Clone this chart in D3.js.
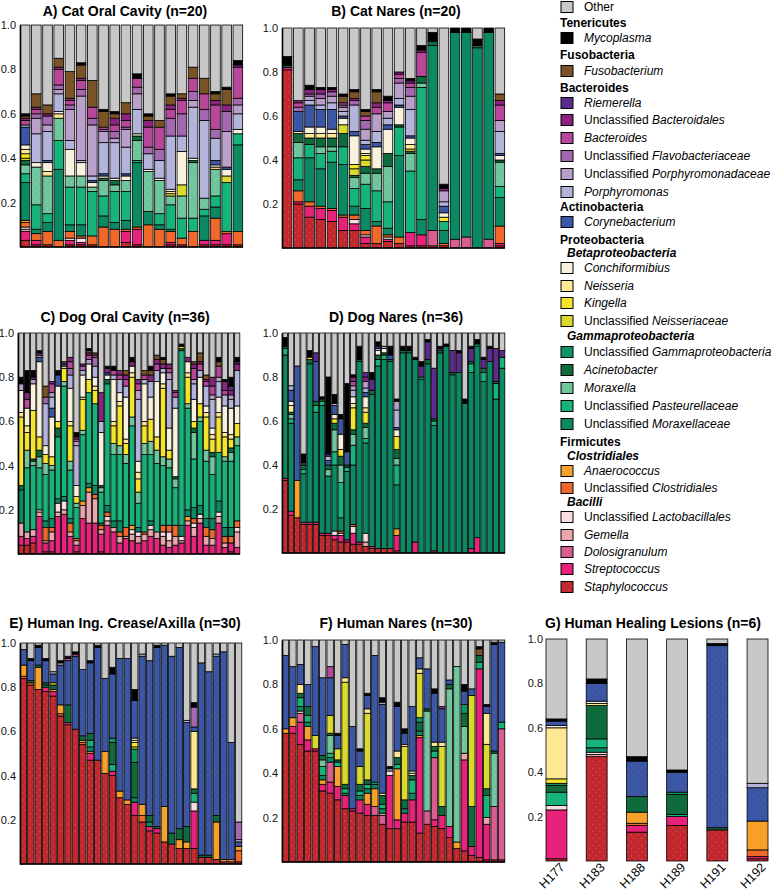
<!DOCTYPE html>
<html><head><meta charset="utf-8">
<script src="https://cdn.jsdelivr.net/npm/d3@7"></script>
<style>body{margin:0;background:#fff}svg{display:block}</style>
</head><body><svg id="c" width="778" height="891"></svg>
<script>
const FONT = '"Liberation Sans", Arial, Helvetica, sans-serif';
// stacking order bottom -> top ("ot" = Other, remainder)
const stackKeys = ["sa","sp","do","ge","la","cl","an","mx","pa","mo","ac","ga","ne","ki","ns","co","cy","po","pd","fl","bt","bd","ri","fu","my","ot"];
const taxonColors = {
  ot:"#c8c8c8", my:"#000000", fu:"#7a5426", ri:"#5b2c8c", bd:"#8b2381", bt:"#b8479c",
  fl:"#a468b0", pd:"#b99fca", po:"#b3b4dc", cy:"#3a55a4", co:"#f8f2dc", ns:"#fde993",
  ki:"#f5e52a", ne:"#d9db2c", ga:"#0f9467", ac:"#0f6b3c", mo:"#6fc59b", pa:"#16b37b",
  mx:"#0a8963", an:"#f7a12a", cl:"#f0682a", la:"#f9dde2", ge:"#eba5ad", do:"#d95d8f",
  sp:"#e8217a", sa:"#c1272d"
};
const catOral = [
 {sa:.03,sp:.04,ge:.01,la:.01,cl:.02,an:.01,mx:.17,pa:.04,mo:.04,ac:.02,ne:.01,ki:.02,ns:.02,co:.02,cy:.08,po:.01,bt:.02,bd:.01,fu:.01,my:.01},
 {sa:.01,sp:.02,cl:.03,mx:.02,pa:.11,mo:.17,co:.02,po:.13,pd:.07,fl:.02,bt:.02,bd:.01,fu:.06},
 {sa:.01,cl:.06,mx:.04,pa:.04,mo:.17,ns:.02,co:.04,cy:.01,po:.13,pd:.03,fl:.04,bd:.01,fu:.04},
 {cl:.03,mx:.32,pa:.13,mo:.10,ns:.02,co:.01,po:.08,pd:.02,fl:.02,bt:.07,bd:.01,fu:.04},
 {sa:.01,sp:.02,la:.01,cl:.03,mx:.03,pa:.17,mo:.05,co:.12,po:.04,pd:.14,fl:.02,bt:.02,bd:.01,fu:.12},
 {sa:.01,sp:.01,la:.02,cl:.01,mx:.05,pa:.17,mo:.05,co:.06,po:.01,pd:.29,fl:.03,bt:.04,bd:.01,fu:.06,my:.01},
 {sa:.01,cl:.04,pa:.20,mo:.02,co:.02,cy:.01,po:.02,pd:.23,fl:.03,bt:.05,fu:.12},
 {cl:.09,mx:.05,pa:.09,mo:.07,ac:.01,co:.01,cy:.01,po:.14,pd:.05,fl:.01,bt:.01,fu:.07,my:.01},
 {cl:.08,mx:.03,pa:.14,mo:.03,ac:.02,co:.01,po:.16,pd:.02,fl:.03,bt:.03,bd:.03,fu:.02,my:.01},
 {sa:.02,sp:.05,cl:.01,mx:.04,pa:.13,mo:.05,co:.02,cy:.01,po:.12,pd:.08,fl:.01,bt:.03,bd:.03,fu:.05},
 {sa:.01,sp:.07,cl:.01,mx:.29,pa:.01,mo:.09,ac:.02,co:.01,po:.11,pd:.07,fl:.03,bt:.04,my:.02},
 {cl:.10,mx:.06,mo:.18,co:.01,po:.07,fl:.03,bt:.09,bd:.03,fu:.02,my:.01},
 {cl:.08,mx:.02,pa:.05,mo:.15,co:.01,po:.08,fl:.05,bt:.10,fu:.03},
 {sa:.01,sp:.01,cl:.05,mx:.01,pa:.11,mo:.04,ki:.01,ns:.01,co:.01,po:.24,fl:.08,bt:.04,bd:.02,fu:.04,my:.01},
 {sa:.01,cl:.03,pa:.09,mo:.10,ne:.05,co:.15,po:.07,fl:.10,bt:.06,bd:.01,fu:.02},
 {cl:.07,pa:.06,mo:.25,ac:.01,co:.01,po:.23,pd:.03,fl:.04,bt:.06,fu:.05},
 {sa:.01,sp:.02,mx:.11,pa:.03,mo:.05,po:.35,fl:.05,bt:.07,fu:.07},
 {sa:.01,sp:.02,cl:.10,mx:.05,pa:.05,mo:.12,ns:.01,co:.01,cy:.02,po:.10,fl:.04,bt:.11,bd:.02,fu:.03,my:.01},
 {sa:.01,sp:.05,cl:.01,pa:.22,ne:.03,co:.03,cy:.01,pd:.16,fl:.09,bd:.03,fu:.07,my:.01},
 {sa:.01,cl:.06,mx:.39,pa:.05,co:.02,po:.07,pd:.04,fl:.03,bt:.14,bd:.01,my:.02}
];
const catNares = [
 {sa:.81,sp:.01,ac:.01,my:.04},
 {sa:.20,sp:.01,cl:.05,mx:.05,pa:.10,mo:.07,ac:.04,ns:.01,cy:.09,fl:.02,bt:.02,bd:.01},
 {sa:.14,sp:.05,cl:.02,mx:.20,pa:.06,ac:.03,ns:.02,co:.03,cy:.10,po:.02,pd:.02,fl:.01,bd:.02,my:.02},
 {sa:.13,sp:.05,cl:.01,mx:.17,pa:.07,mo:.03,ac:.04,ns:.02,co:.03,cy:.08,po:.02,pd:.03,fl:.02,bd:.02,my:.01},
 {sa:.12,sp:.05,cl:.01,mx:.21,pa:.05,mo:.02,ac:.04,ns:.02,co:.02,cy:.09,po:.03,pd:.03,fl:.02,bd:.01,my:.01},
 {sa:.08,sp:.06,cl:.01,mx:.23,pa:.08,ac:.06,ne:.04,co:.03,cy:.01,po:.02,pd:.02,fl:.01,bt:.01,fu:.03,my:.01},
 {sa:.08,sp:.03,la:.02,cl:.02,mx:.04,pa:.08,mo:.05,ac:.01,ne:.03,ki:.02,co:.13,cy:.02,po:.12,fl:.02,bd:.01,fu:.03,my:.01},
 {sa:.02,sp:.03,la:.01,cl:.02,mx:.10,pa:.11,mo:.05,ac:.03,ne:.03,ki:.02,ns:.01,co:.02,cy:.02,po:.02,pd:.05,fl:.04,bt:.02,fu:.02,my:.01},
 {sa:.02,cl:.08,mx:.02,pa:.14,mo:.08,ac:.02,co:.10,cy:.02,po:.05,pd:.08,bt:.03,bd:.02,fu:.05,my:.01},
 {sa:.03,sp:.01,la:.01,cl:.01,mx:.03,pa:.12,mo:.16,ac:.06,co:.11,cy:.02,po:.03,pd:.03,bt:.04,bd:.01,my:.02},
 {sa:.02,cl:.03,mx:.37,pa:.13,ac:.01,co:.08,cy:.01,po:.03,pd:.07,fl:.02,bt:.02,bd:.01},
 {sa:.01,sp:.06,pa:.28,mo:.08,ac:.01,ki:.01,ns:.02,co:.03,cy:.01,po:.12,pd:.06,fl:.04,bt:.02,bd:.01,my:.01},
 {sa:.01,sp:.05,mx:.07,pa:.60,mo:.02,ac:.03,bt:.11,bd:.01,my:.02},
 {sa:.01,do:.07,mx:.84,ac:.02,my:.04},
 {sa:.01,cl:.01,mx:.06,pa:.04,ki:.02,co:.02,cy:.03,po:.02,pd:.05,bd:.01,my:.02},
 {do:.04,mx:.94,my:.02},
 {do:.05,mx:.93,my:.02},
 {mx:.91,ac:.01,my:.03},
 {do:.04,mx:.94,my:.02},
 {sa:.01,sp:.01,cl:.08,mx:.13,pa:.05,mo:.11,ac:.01,co:.02,cy:.01,po:.10,pd:.05,bt:.07,bd:.02,fu:.03}
];
const dogOral = [
 {sa:.04,sp:.04,ge:.06,mx:.15,ac:.02,ki:.31,ns:.02,co:.10,pd:.03,my:.03},
 {sa:.04,sp:.03,ge:.03,pa:.29,mo:.08,ki:.08,ns:.03,co:.08,bt:.04,bd:.03,my:.10},
 {sa:.05,sp:.03,ge:.03,pa:.29,mo:.02,ac:.01,ki:.22,co:.12,pd:.02,bd:.01,my:.03},
 {sp:.17,ge:.02,la:.01,pa:.19,mo:.05,ac:.03,ki:.06,co:.34,cy:.02,pd:.01,bd:.01,my:.01},
 {sa:.01,sp:.04,ge:.01,cl:.06,mx:.03,pa:.21,mo:.05,ki:.04,co:.04,po:.19,fl:.03,fu:.05},
 {sa:.01,sp:.05,ge:.04,cl:.02,mx:.04,pa:.22,mo:.02,ki:.04,co:.18,cy:.04,po:.05,pd:.02,bt:.04,bd:.01},
 {sp:.17,ge:.02,la:.04,mx:.02,pa:.28,ac:.04,ki:.03,co:.16,cy:.05,my:.02},
 {sp:.18,ge:.02,la:.04,mx:.02,pa:.50,mo:.02,ki:.06,ns:.01,cy:.01,bd:.01},
 {sp:.08,ge:.02,cl:.04,mx:.02,pa:.22,mo:.04,ki:.16,ns:.02,co:.15,po:.06,fl:.03,bt:.03,bd:.02},
 {sa:.01,sp:.03,ge:.02,cl:.01,pa:.14,mo:.02,ki:.03,co:.05,po:.18,pd:.02,fl:.01,bd:.01,my:.02},
 {sp:.16,ge:.06,an:.02,pa:.30,mo:.02,ki:.14,ns:.01,co:.10,po:.02,fl:.02,bd:.01},
 {sp:.14,ge:.14,an:.02,mx:.02,pa:.41,ki:.06,co:.07,pd:.02,bt:.02,bd:.01,fu:.01,my:.01},
 {sp:.14,ge:.11,cl:.02,mx:.04,pa:.37,ki:.06,ns:.02,co:.04,po:.05,fl:.04,bt:.01,fu:.01},
 {sa:.01,sp:.08,ge:.02,cl:.02,mx:.01,pa:.14,mo:.02,ac:.01,co:.24,po:.05,bd:.13},
 {sp:.13,ge:.02,la:.02,cl:.02,mx:.03,pa:.55,ac:.02,co:.02,cy:.01,bd:.02,my:.01},
 {sp:.10,ge:.02,mx:.03,pa:.30,mo:.05,ki:.08,ns:.02,co:.19,po:.02,bt:.02,my:.02},
 {sp:.05,ge:.03,cl:.02,mx:.05,pa:.30,mo:.04,ki:.18,ns:.02,co:.04,po:.06,bt:.02,bd:.02},
 {sp:.07,ge:.01,cl:.04,pa:.29,mo:.04,ki:.05,ns:.02,co:.19,po:.05,bt:.03,bd:.02,fu:.02},
 {sp:.06,ge:.03,la:.02,an:.02,pa:.45,mo:.04,ki:.18,ns:.02,co:.03,bd:.02,my:.02},
 {sp:.05,ge:.03,la:.02,mx:.02,pa:.11,mo:.05,ki:.06,ns:.03,co:.05,po:.28,pd:.04,bt:.03,bd:.02},
 {sp:.06,ge:.03,cl:.01,pa:.35,mo:.05,ki:.08,ns:.02,co:.17,po:.02,bt:.02,fu:.02},
 {sp:.08,ge:.03,la:.02,mx:.02,pa:.30,mo:.06,ki:.10,co:.10,po:.07,bd:.03,fu:.02,my:.02},
 {sp:.07,ge:.03,pa:.31,mo:.06,ki:.06,co:.25,po:.05,bt:.03,bd:.02,fu:.02},
 {sp:.04,ge:.04,la:.02,cl:.03,pa:.27,mo:.04,ki:.31,ns:.02,co:.05,po:.02,bd:.02,fu:.02,my:.01},
 {sp:.03,ge:.03,la:.04,cl:.03,pa:.26,mo:.04,ki:.04,co:.10,po:.22,pd:.03,bt:.02,bd:.02},
 {sp:.04,ge:.04,cl:.05,pa:.17,mo:.04,ac:.01,co:.31,po:.05,bt:.02,bd:.01},
 {sp:.05,ge:.01,la:.02,mx:.05,pa:.79,ac:.01,ki:.01,my:.01},
 {sp:.13,ge:.02,an:.02,mx:.03,pa:.46,mo:.02,ki:.12,ns:.02,co:.05,bd:.02},
 {sp:.08,ge:.04,la:.02,cl:.02,mx:.05,pa:.22,mo:.12,ac:.02,ki:.03,co:.10,po:.07,pd:.02,bt:.05,bd:.02,fu:.01},
 {sp:.14,ge:.02,la:.02,mx:.04,pa:.38,mo:.02,ki:.06,co:.12,po:.03,bt:.03,bd:.01,fu:.04},
 {sp:.04,ge:.04,cl:.04,mx:.04,pa:.26,mo:.05,ki:.15,ns:.02,co:.03,po:.09,bt:.02,bd:.01,fu:.02},
 {sp:.04,ge:.03,cl:.04,mx:.05,pa:.20,mo:.08,ac:.02,ki:.06,ns:.02,co:.03,po:.13,pd:.02,bt:.04,bd:.04},
 {sp:.14,ge:.03,la:.02,mx:.05,pa:.22,ki:.16,ns:.02,co:.07,po:.07,pd:.02,bt:.05,fu:.02,my:.02},
 {sp:.03,ge:.02,cl:.03,mx:.04,pa:.30,mo:.02,ki:.09,ns:.02,co:.12,po:.05,bt:.02,bd:.04,my:.01},
 {sa:.01,sp:.04,cl:.03,mx:.04,pa:.30,mo:.04,ac:.02,ki:.04,ns:.02,co:.12,po:.04,pd:.02,bd:.02,ri:.02,my:.04},
 {sp:.03,ge:.07,la:.02,cl:.03,pa:.34,mo:.04,ki:.06,co:.08,po:.16,bd:.03,ri:.01,my:.02}
];
const dogNares = [
 {sa:.33,sp:.01,mx:.56,pa:.03,ac:.01,my:.04},
 {sa:.17,sp:.02,mx:.40,pa:.02,mo:.02,ac:.01,ns:.03,co:.02,cy:.05,po:.02},
 {sa:.16,an:.17,cy:.52},
 {sa:.13,sp:.01,mx:.22,pa:.02,ac:.02,cy:.01,my:.04},
 {sa:.13,sp:.01,mx:.72,ac:.02,ki:.01,my:.03},
 {sa:.13,sp:.01,mx:.50,pa:.03,ac:.02,cy:.18,ri:.04},
 {sa:.08,sp:.01,mx:.58,pa:.02,ac:.01,my:.01},
 {sa:.08,sp:.01,mx:.26,mo:.03,ac:.02,cy:.02,po:.02,ri:.01,my:.35},
 {sa:.06,sp:.02,la:.02,mx:.30,pa:.06,mo:.10,ac:.03,ki:.02,co:.02,cy:.04,po:.01,my:.04},
 {sa:.05,sp:.03,la:.01,cl:.01,mx:.06,pa:.16,mo:.08,ac:.04,ki:.03,co:.07,cy:.07,my:.02},
 {sa:.05,sp:.01,mx:.31,pa:.02,ac:.01,cy:.06,my:.31},
 {sa:.04,sp:.05,la:.03,cl:.01,mx:.27,pa:.09,mo:.05,ac:.02,ki:.10,ns:.02,co:.03,po:.03,pd:.02,bt:.02,bd:.02,my:.01},
 {sa:.04,sp:.01,mx:.82,ac:.01,my:.06},
 {sa:.03,ge:.02,la:.04,mx:.41,pa:.02,mo:.05,ac:.02,ki:.05,ns:.02,co:.05,cy:.02,po:.02,pd:.03,bd:.02,ri:.02},
 {sa:.02,sp:.01,mx:.69,ac:.02,ri:.05,my:.03},
 {sa:.02,mx:.83,pa:.03,ac:.02,co:.02,po:.01,ri:.01,my:.02},
 {sa:.02,mx:.86,pa:.02,ac:.01,co:.02,pd:.01},
 {sa:.02,mx:.85,ac:.01,cy:.02,my:.04},
 {sa:.01,sp:.07,an:.03,mx:.20,pa:.09,mo:.03,ac:.04,ki:.06,co:.03,cy:.01,po:.08,pd:.04,my:.01},
 {mx:.91,ac:.01,my:.02},
 {mx:.91,ac:.01,my:.02},
 {sp:.05,mx:.83,my:.01},
 {mx:.79,pa:.01,ri:.05,my:.02},
 {mx:.86,ac:.02,ri:.08,my:.01},
 {sa:.01,mx:.57,pa:.02,ac:.01,ri:.23},
 {mx:.91,ac:.01,ri:.01,my:.01},
 {mx:.94,my:.01},
 {mx:.81,ac:.01,ri:.10},
 {mx:.82,ri:.09,my:.01},
 {mx:.68,my:.02},
 {sp:.02,mx:.80,pa:.04,ac:.01,ri:.06,my:.01},
 {sp:.07,mx:.87,pa:.01,my:.02},
 {mx:.78,pa:.04,ac:.02,ri:.04,my:.01},
 {mx:.87,ri:.06,my:.01},
 {mx:.70,pa:.07,ac:.01,ri:.15},
 {mx:.84,pa:.05,ri:.03}
];
const humanIng = [
 {sa:.84,cl:.01,an:.05,cy:.07},
 {sa:.81,cl:.01,ac:.01,cy:.09,my:.01},
 {sa:.79,an:.10,ac:.01,cy:.08,my:.01},
 {sa:.78,sp:.02,mx:.01,ac:.01,cy:.10,my:.01},
 {sa:.76,sp:.02,an:.01,ac:.02,ki:.01,cy:.04,po:.01},
 {sa:.67,cl:.01,an:.04,cy:.18,po:.01,my:.01},
 {sa:.63,sp:.01,ac:.08,cy:.20,bt:.01,my:.01},
 {sa:.61,cy:.33,bt:.01,my:.01},
 {sa:.54,cl:.01,an:.01,ac:.02,cy:.30},
 {sa:.47,sp:.03,cl:.01,mx:.02,pa:.03,ac:.03,cy:.32,my:.01},
 {sa:.47,cy:.51,my:.01},
 {sa:.41,an:.10,cy:.33},
 {sa:.40,sp:.02,pa:.03,ac:.10,ga:.02,cy:.29,my:.03},
 {sa:.30,an:.03,cy:.60},
 {sa:.27,an:.02,cy:.64},
 {sa:.22,sp:.06,mx:.02,ac:.16,ga:.06,ne:.01,ki:.02,ns:.01,co:.01,cy:.17,my:.05},
 {sa:.19,cl:.03,an:.05,cy:.67,po:.01},
 {sa:.15,sp:.02,mx:.02,ac:.03,cy:.70},
 {sa:.14,sp:.02,ac:.01,cy:.81,my:.01},
 {sa:.10,an:.16,cy:.73},
 {sa:.09,ac:.05,cy:.80},
 {sa:.07,an:.04,ac:.05,cy:.82},
 {sa:.07,an:.03,ac:.07,cy:.47,po:.01},
 {sa:.07,sp:.17,la:.04,pa:.04,ac:.02,ns:.26,cy:.02,fl:.09,my:.02},
 {sa:.03,ac:.01,cy:.87},
 {sa:.03,ac:.01,cy:.83},
 {sa:.02,an:.17,ac:.03,cy:.72,po:.01},
 {sa:.01,an:.01,cy:.94},
 {sa:.01,an:.01,cy:.53},
 {sa:.01,cl:.05,an:.02,cy:.02,fl:.08,po:.01}
];
const humanNares = [
 {sa:.58,an:.02,cy:.33},
 {sa:.58,sp:.03,an:.04,cy:.23},
 {sa:.53,sp:.10,do:.04,la:.01,mx:.02,pa:.04,ac:.02,ns:.04,cy:.09},
 {sa:.50,sp:.05,an:.06,mx:.02,pa:.03,ac:.04,cy:.10},
 {sa:.50,sp:.01,ne:.06,cy:.40},
 {sa:.32,sp:.03,an:.02,mx:.02,pa:.04,mo:.03,ac:.02,cy:.35},
 {sa:.31,sp:.05,do:.09,mx:.02,pa:.02,mo:.08,ac:.01,ne:.08,cy:.17,bt:.05},
 {sa:.28,sp:.06,an:.09,pa:.02,ac:.01,ne:.05,cy:.06,my:.01},
 {sa:.24,sp:.06,mx:.01,pa:.02,ac:.02,ne:.46,ns:.02,cy:.15},
 {sa:.23,sp:.01,cy:.37},
 {sa:.22,sp:.06,mx:.02,pa:.02,ac:.03,ne:.08,cy:.07,my:.01},
 {sa:.21,sp:.05,an:.05,mx:.02,pa:.02,ac:.02,ne:.30,ns:.02,cy:.06,my:.01},
 {sa:.21,do:.04,an:.08,mx:.02,pa:.01,cy:.57},
 {sa:.17,do:.04,ge:.01,mx:.02,pa:.02,ac:.04,ns:.01,cy:.40,pd:.01,my:.02},
 {sa:.15,sp:.24,la:.02,po:.01,my:.01},
 {sa:.15,sp:.04,an:.23,pa:.02,ac:.03,ns:.03,cy:.20,my:.02},
 {sa:.18,sp:.04,mx:.02,ac:.04,ne:.24,ns:.01,cy:.05,my:.02},
 {sa:.18,sp:.10,mx:.03,pa:.06,ac:.02,ns:.01,co:.01,cy:.29},
 {sa:.13,sp:.43,an:.01,mx:.02,ac:.04,ga:.02,ne:.20,ns:.02,cy:.05},
 {sa:.17,do:.06,mo:.45,ac:.01,cy:.18},
 {sa:.16,sp:.03,do:.28,pa:.03,ac:.02,ns:.02,cy:.22,my:.02},
 {sa:.15,sp:.06,ac:.04,ne:.27,ns:.02,cy:.15,bd:.01},
 {sa:.11,sp:.05,mo:.62,ac:.02,cy:.02},
 {sa:.06,an:.03,mo:.79},
 {sa:.05,sp:.41,ge:.03,mo:.12,ac:.06,ga:.04,cy:.06,my:.03},
 {sa:.03,sp:.04,ac:.18,ne:.50,cy:.03},
 {sa:.02,sp:.85,pa:.03,ac:.03,fu:.03,my:.01},
 {sa:.01,sp:.16,ge:.03,pa:.10,ac:.03,ne:.20,ns:.14,cy:.03,my:.01},
 {sa:.01,do:.24,mo:.24,ac:.01,cy:.48,my:.01},
 {sa:.01,do:.59,pa:.03,cy:.36}
];
const lesionLabels = ["H177","H183","H188","H189","H191","H192"];
const lesions = [
 {sa:.01,sp:.22,la:.02,pa:.06,ac:.03,ga:.01,ki:.02,ns:.23,co:.01,cy:.02,my:.01},
 {sa:.47,ge:.01,la:.01,mx:.02,pa:.04,ac:.15,ns:.01,co:.01,cy:.08,my:.02},
 {sa:.13,sp:.03,cl:.01,an:.05,ac:.07,cy:.16,my:.02},
 {sa:.16,sp:.04,pa:.01,ac:.09,ga:.01,cy:.09,my:.01},
 {sa:.14,ac:.01,cy:.82,my:.01},
 {sa:.01,sp:.01,cl:.03,an:.13,cy:.15,po:.02}
];
const yTicks = [0.2,0.4,0.6,0.8,1.0];

const legendRows = [
 ["sw","ot","Other",""],["h","Tenericutes"],["sw","my","","Mycoplasma"],
 ["h","Fusobacteria"],["sw","fu","","Fusobacterium"],
 ["h","Bacteroides"],["sw","ri","","Riemerella"],["sw","bd","Unclassified ","Bacteroidales"],
 ["sw","bt","","Bacteroides"],["sw","fl","Unclassified ","Flavobacteriaceae"],
 ["sw","pd","Unclassified ","Porphyromonadaceae"],["sw","po","","Porphyromonas"],
 ["h","Actinobacteria"],["sw","cy","","Corynebacterium"],
 ["h","Proteobacteria"],["s","Betaproteobacteria"],["sw","co","","Conchiformibius"],
 ["sw","ns","","Neisseria"],["sw","ki","","Kingella"],["sw","ne","Unclassified ","Neisseriaceae"],
 ["s","Gammaproteobacteria"],["sw","ga","Unclassified ","Gammaproteobacteria"],
 ["sw","ac","","Acinetobacter"],["sw","mo","","Moraxella"],
 ["sw","pa","Unclassified ","Pasteurellaceae"],["sw","mx","Unclassified ","Moraxellaceae"],
 ["h","Firmicutes"],["s","Clostridiales"],["sw","an","","Anaerococcus"],
 ["sw","cl","Unclassified ","Clostridiales"],["s","Bacilli"],
 ["sw","la","Unclassified ","Lactobacillales"],["sw","ge","","Gemella"],
 ["sw","do","","Dolosigranulum"],["sw","sp","","Streptococcus"],["sw","sa","","Staphylococcus"]
];

// ---------- layout ----------
const legendY = [7,23,38,55,71,88,103,120,138,156,174,192,207,222,240,253,268,286,303,321,336,352,370,388,406,424,442,456,471,488,502,517,535,552,569,587];
const panels = [
 {title:"A) Cat Oral Cavity (n=20)", data:catOral, x0:20,x1:243,top:25,bottom:247, tx:125,ty:16},
 {title:"B) Cat Nares (n=20)", data:catNares, x0:282,x1:505,top:28,bottom:248, tx:396,ty:16},
 {title:"C) Dog Oral Cavity (n=36)", data:dogOral, x0:18,x1:240,top:333,bottom:554, tx:125,ty:322},
 {title:"D) Dog Nares (n=36)", data:dogNares, x0:282,x1:505,top:333,bottom:553, tx:396,ty:322},
 {title:"E) Human Ing. Crease/Axilla (n=30)", data:humanIng, x0:20,x1:242,top:643,bottom:864, tx:125,ty:628},
 {title:"F) Human Nares (n=30)", data:humanNares, x0:282,x1:505,top:640,bottom:862, tx:396,ty:628},
 {title:"G) Human Healing Lesions (n=6)", data:lesions, x0:546,x1:768,top:639,bottom:861, tx:653,ty:628, labels:lesionLabels}
];

const svg = d3.select("#c");
const defs = svg.append("defs");
const dotted = {sa:["#f3a0a0",0.8], mo:["#ffffff",0.45], cy:["#ffffff",0.2]};
Object.entries(dotted).forEach(([k,[dc,op]])=>{
  const p = defs.append("pattern").attr("id","pat-"+k).attr("patternUnits","userSpaceOnUse").attr("width",7).attr("height",7);
  p.append("rect").attr("width",7).attr("height",7).attr("fill",taxonColors[k]);
  [[1,1.5],[4.5,4.8]].forEach(([a,b])=>p.append("rect").attr("x",a).attr("y",b).attr("width",0.8).attr("height",0.8).attr("fill",dc).attr("opacity",op));
});
const fillOf = k => dotted[k] ? `url(#pat-${k})` : taxonColors[k];

panels.forEach(p=>{
  const rows = p.data.map((d,i)=>{
    const s = d3.sum(stackKeys.slice(0,-1), k=>d[k]||0);
    return Object.assign({}, d, {ot: Math.max(0, 1-s), _i:i});
  });
  const isG = !!p.labels;
  const x = d3.scaleBand().domain(d3.range(rows.length)).range([p.x0,p.x1])
    .paddingInner(isG ? 0.48 : 0.14).paddingOuter(isG ? 0 : 0.03);
  const y = d3.scaleLinear().domain([0,1]).range([p.bottom,p.top]);
  const series = d3.stack().keys(stackKeys).value((d,k)=>d[k]||0)(rows);
  const g = svg.append("g");
  g.selectAll("g.s").data(series).join("g").attr("class","s")
    .attr("fill", s=>fillOf(s.key))
    .selectAll("rect").data(s=>s.filter(v=>v[1]-v[0]>1e-4)).join("rect")
    .attr("x", v=>x(v.data._i)).attr("width", x.bandwidth())
    .attr("y", v=>y(v[1])).attr("height", v=>y(v[0])-y(v[1]))
    .attr("stroke","#000").attr("stroke-width",0.8);
  const ax = g.append("g").attr("transform",`translate(${p.x0},0)`)
    .call(d3.axisLeft(y).tickValues(yTicks).tickFormat(d3.format(".1f")).tickSize(0).tickPadding(isG?3:4))
    .attr("font-family",FONT).attr("font-size",11);
  ax.selectAll("text").attr("fill","#111");
  if (isG) {
    ax.select(".domain").remove();
    g.selectAll("text.xl").data(p.labels).join("text").attr("class","xl")
      .attr("transform",(d,i)=>`translate(${x(i)+x.bandwidth()/2+9},${p.bottom+7}) rotate(-45)`)
      .attr("text-anchor","end").attr("font-family",FONT).attr("font-size",12.5).text(d=>d);
  } else {
    ax.select(".domain").attr("stroke","#000").attr("stroke-width",1.6);
    g.append("line").attr("x1",p.x0).attr("x2",p.x1).attr("y1",p.bottom).attr("y2",p.bottom)
      .attr("stroke","#000").attr("stroke-width",1.6);
  }
  svg.append("text").attr("x",p.tx).attr("y",p.ty).attr("text-anchor","middle")
    .attr("font-family",FONT).attr("font-size",14).attr("font-weight","bold").text(p.title);
});

// legend
const lg = svg.append("g").attr("font-family",FONT).attr("font-size",12);
legendRows.forEach((r,i)=>{
  const cy = legendY[i];
  if (r[0]==="h") {
    lg.append("text").attr("x",560).attr("y",cy+4).attr("font-weight","bold").text(r[1]);
  } else if (r[0]==="s") {
    lg.append("text").attr("x",567).attr("y",cy+4).attr("font-weight","bold").attr("font-style","italic").text(r[1]);
  } else {
    lg.append("rect").attr("x",561).attr("y",cy-5.5).attr("width",12).attr("height",11)
      .attr("fill",fillOf(r[1])).attr("stroke","#000").attr("stroke-width",1);
    const t = lg.append("text").attr("x",584).attr("y",cy+4);
    if (r[2]) t.append("tspan").text(r[2]);
    if (r[3]) t.append("tspan").attr("font-style","italic").text(r[3]);
  }
});
</script></body></html>
